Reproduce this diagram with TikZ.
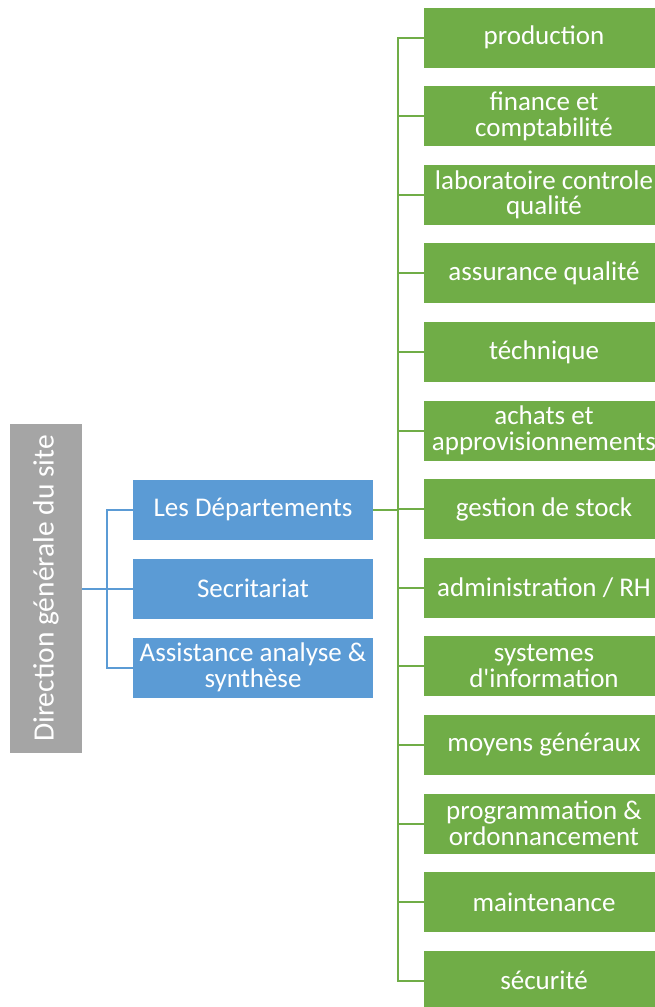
\documentclass[tikz,border=0pt]{standalone}
\usepackage{fontspec}
\setmainfont{Carlito}
\definecolor{gbox}{HTML}{70AD47}
\definecolor{bbox}{HTML}{5B9BD5}
\definecolor{greybox}{HTML}{A5A5A5}
\tikzset{
  dept/.style={fill=gbox, text=white, minimum width=240pt, minimum height=60pt, inner sep=0pt, align=center, font=\fontsize{27}{25.5}\selectfont},
  bluebox/.style={fill=bbox, text=white, minimum width=240pt, minimum height=60pt, inner sep=0pt, align=center, font=\fontsize{27}{25.5}\selectfont},
  rootbox/.style={fill=greybox, text=white, minimum width=329pt, minimum height=72pt, inner sep=0pt, rotate=90, font=\fontsize{29.5}{30}\selectfont},
  gline/.style={draw=gbox, line width=2pt},
  bline/.style={draw=bbox, line width=2pt},
}
\begin{document}
\begin{tikzpicture}[x=1pt,y=-1pt]
\path[use as bounding box] (0,0) rectangle (655,1007);
\clip (0,0) rectangle (655,1007);
\node[rootbox] (root) at (46,588.5) {Direction générale du site};
\node[bluebox] (b1) at (253,509.5) {Les Départements};
\node[bluebox] (b2) at (253,588.5) {Secritariat};
\node[bluebox] (b3) at (253,667.5) {Assistance analyse \&\\synthèse};
\foreach \name/\txt [count=\k from 0] in {
  g0/production,
  g1/{finance et\\comptabilité},
  g2/{laboratoire controle\\qualité},
  g3/assurance qualité,
  g4/téchnique,
  g5/{achats et\\approvisionnements},
  g6/gestion de stock,
  g7/{administration {/} RH},
  g8/{systemes\\d\textquotesingle information},
  g9/moyens généraux,
  g10/{programmation \&\\ordonnancement},
  g11/maintenance,
  g12/sécurité}
{
  \node[dept] (\name) at (544,{37.5+78.6*\k}) {\txt};
}
% blue connectors
\coordinate (bj) at (107,588.5);
\draw[bline] (root.south) -- (root.south -| bj);
\draw[bline] (b1.west) -- (b1.west -| bj) -- (b3.west -| bj) -- (b3.west);
\draw[bline] (b2.west) -- (b2.west -| bj);
% green connectors
\coordinate (gj) at (398,509.5);
\draw[gline] (b1.east) -- (gj);
\draw[gline] (g0.west) -- (g0.west -| gj) -- (g12.west -| gj) -- (g12.west);
\foreach \k in {1,...,11} {
  \draw[gline] (g\k.west) -- (g\k.west -| gj);
}
\end{tikzpicture}
\end{document}
